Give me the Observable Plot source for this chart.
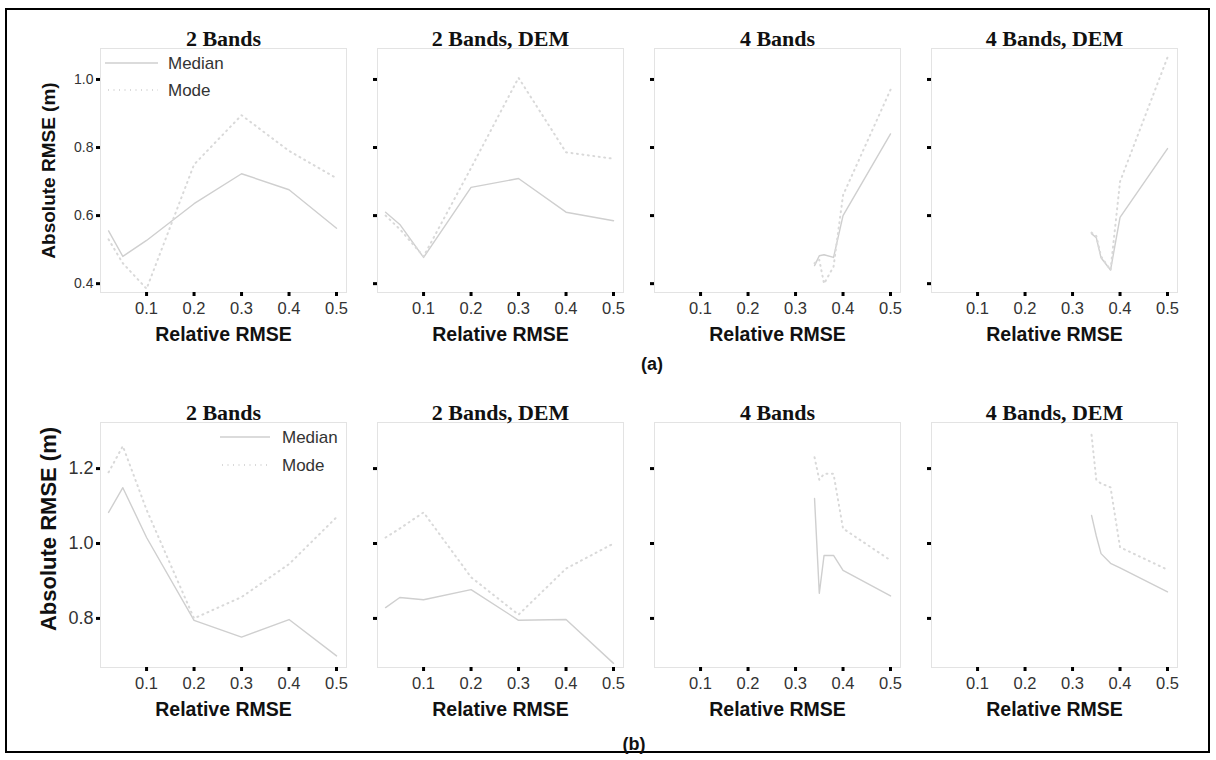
<!DOCTYPE html>
<html><head><meta charset="utf-8">
<script src="https://cdn.jsdelivr.net/npm/d3@7"></script>
<script src="https://cdn.jsdelivr.net/npm/@observablehq/plot@0.6"></script>
<style>
html,body{margin:0;padding:0;background:#fff;overflow:hidden;}
#wrap{position:relative;width:1216px;height:760px;overflow:hidden;font-family:"Liberation Sans",Arial,sans-serif;}
.row{position:absolute;left:0;}
.row svg{max-width:none !important;}
#border{position:absolute;left:5px;top:8px;width:1201px;height:741px;border:2px solid #000;}
.tag{position:absolute;font-weight:bold;font-size:18px;color:#111;transform:translate(-50%,-50%);}
#legend{position:absolute;left:0;top:0;pointer-events:none;}
</style></head><body>
<div id="wrap">
<div id="border"></div>
<div class="row" id="rowA" style="top:0px"></div>
<div class="row" id="rowB" style="top:380px"></div>
<div class="tag" style="left:652px;top:364px">(a)</div>
<div class="tag" style="left:634px;top:744px">(b)</div>
<svg id="legend" width="1216" height="760" font-family="Liberation Sans, Arial, sans-serif" font-size="17" fill="#333">
  <line x1="105" y1="63" x2="158" y2="63" stroke="#cfcfcf" stroke-width="1.4"/>
  <text x="168" y="63" dominant-baseline="central">Median</text>
  <line x1="108" y1="90" x2="158" y2="90" stroke="#d9d9d9" stroke-width="2" stroke-dasharray="1,4.5"/>
  <text x="168" y="90" dominant-baseline="central">Mode</text>
  <line x1="220" y1="437" x2="270" y2="437" stroke="#cfcfcf" stroke-width="1.4"/>
  <text x="282" y="437" dominant-baseline="central">Median</text>
  <line x1="222" y1="465" x2="270" y2="465" stroke="#d9d9d9" stroke-width="2" stroke-dasharray="1,4.5"/>
  <text x="282" y="465" dominant-baseline="central">Mode</text>
</svg>
</div>
<script>
// ---- data ----
const panels = ["2 Bands", "2 Bands, DEM", "4 Bands", "4 Bands, DEM"];
const xTicks = [0.1, 0.2, 0.3, 0.4, 0.5];
const xTwo = [0.02, 0.05, 0.1, 0.2, 0.3, 0.4, 0.5];
const xFour = [0.34, 0.35, 0.36, 0.38, 0.4, 0.5];

// (a)
const aTicksY = [0.4, 0.6, 0.8, 1.0];
const aMedian2 = [0.555, 0.48, 0.527, 0.635, 0.723, 0.676, 0.563];
const aMode2 = [0.53, 0.46, 0.385, 0.75, 0.895, 0.79, 0.71];
const aMedian2D = [0.61, 0.574, 0.477, 0.683, 0.709, 0.61, 0.585];
const aMode2D = [0.6, 0.56, 0.48, 0.74, 1.005, 0.786, 0.767];
const aMedian4 = [0.453, 0.482, 0.485, 0.477, 0.6, 0.84];
const aMode4 = [0.46, 0.47, 0.40, 0.45, 0.66, 0.97];
const aMedian4D = [0.547, 0.535, 0.476, 0.44, 0.595, 0.797];
const aMode4D = [0.55, 0.54, 0.48, 0.44, 0.70, 1.065];

// (b)
const bTicksY = [0.8, 1.0, 1.2];
const bMedian2 = [1.083, 1.149, 1.016, 0.795, 0.75, 0.797, 0.70];
const bMode2 = [1.19, 1.26, 1.09, 0.80, 0.857, 0.945, 1.07];
const bMedian2D = [0.829, 0.856, 0.85, 0.877, 0.795, 0.797, 0.68];
const bMode2D = [1.016, 1.04, 1.083, 0.91, 0.81, 0.933, 1.0];
const bMedian4 = [1.12, 0.867, 0.968, 0.968, 0.928, 0.86];
const bMode4 = [1.23, 1.17, 1.186, 1.186, 1.04, 0.955];
const bMedian4D = [1.075, 1.02, 0.973, 0.947, 0.935, 0.871];
const bMode4D = [1.29, 1.17, 1.16, 1.15, 0.99, 0.93];

const xLabel = "Relative RMSE";
const yLabel = "Absolute RMSE (m)";

// ---- table builder ----
function series(panel, stat, xs, ys) {
  return xs.map((x, i) => ({panel, stat, x, y: ys[i]}));
}
const dataA = [
  ...series(panels[0], "Median", xTwo, aMedian2), ...series(panels[0], "Mode", xTwo, aMode2),
  ...series(panels[1], "Median", xTwo, aMedian2D), ...series(panels[1], "Mode", xTwo, aMode2D),
  ...series(panels[2], "Median", xFour, aMedian4), ...series(panels[2], "Mode", xFour, aMode4),
  ...series(panels[3], "Median", xFour, aMedian4D), ...series(panels[3], "Mode", xFour, aMode4D)
];
const dataB = [
  ...series(panels[0], "Median", xTwo, bMedian2), ...series(panels[0], "Mode", xTwo, bMode2),
  ...series(panels[1], "Median", xTwo, bMedian2D), ...series(panels[1], "Mode", xTwo, bMode2D),
  ...series(panels[2], "Median", xFour, bMedian4), ...series(panels[2], "Mode", xFour, bMode4),
  ...series(panels[3], "Median", xFour, bMedian4D), ...series(panels[3], "Mode", xFour, bMode4D)
];

const fmt = d3.format(".1f");

function rowPlot({data, yDomain, yTicks, marginTop, frameH, height, yFont, yLabelFont, yLabelDy}) {
  return Plot.plot({
    width: 1216, height,
    marginLeft: 99, marginRight: 39, marginTop, marginBottom: height - marginTop - frameH,
    style: {background: "transparent", fontFamily: "Liberation Sans, Arial, sans-serif", overflow: "visible"},
    fx: {domain: panels, paddingInner: 0.112, paddingOuter: 0, axis: null, label: null},
    x: {domain: [0.003, 0.521]},
    y: {domain: yDomain},
    marks: [
      Plot.frame({stroke: "#e3e3e3", strokeWidth: 1}),
      Plot.line(data.filter(d => d.stat === "Median"), {x: "x", y: "y", fx: "panel", stroke: "#cfcfcf", strokeWidth: 1.4}),
      Plot.line(data.filter(d => d.stat === "Mode"), {x: "x", y: "y", fx: "panel", stroke: "#d9d9d9", strokeWidth: 2, strokeDasharray: "1,4.5"}),
      Plot.axisX({ticks: xTicks, tickSize: 4, tickPadding: 6, strokeWidth: 3, stroke: "#000", fill: "#333", fontSize: 16.5, tickFormat: fmt, label: null}),
      Plot.axisY({ticks: yTicks, tickSize: 4, strokeWidth: 3, stroke: "#000", tickFormat: () => "", facetAnchor: null, label: null}),
      Plot.axisY({ticks: yTicks, tickSize: 0, tickPadding: 7, fill: "#333", fontSize: yFont, tickFormat: fmt, label: null}),
      Plot.text(panels, {fx: d => d, text: d => d, frameAnchor: "top", lineAnchor: "bottom", dy: -3, fontSize: 22, fontWeight: "bold", fontFamily: "Liberation Serif, Times New Roman, serif", fill: "#111"}),
      Plot.text(panels, {fx: d => d, text: () => xLabel, frameAnchor: "bottom", dy: 48, fontSize: 19.5, fontWeight: "bold", fill: "#111"}),
      Plot.text([panels[0]], {fx: d => d, text: () => yLabel, frameAnchor: "left", textAnchor: "middle", rotate: -90, dx: -52, dy: yLabelDy, fontSize: yLabelFont, fontWeight: "bold", fill: "#111"})
    ]
  });
}

document.getElementById("rowA").append(rowPlot({
  data: dataA, yDomain: [0.374, 1.091], yTicks: aTicksY,
  marginTop: 48, frameH: 244, height: 380, yFont: 14, yLabelFont: 19, yLabelDy: 0
}));
document.getElementById("rowB").append(rowPlot({
  data: dataB, yDomain: [0.669, 1.323], yTicks: bTicksY,
  marginTop: 42, frameH: 245, height: 380, yFont: 18, yLabelFont: 22, yLabelDy: -16
}));
</script>
</body></html>
